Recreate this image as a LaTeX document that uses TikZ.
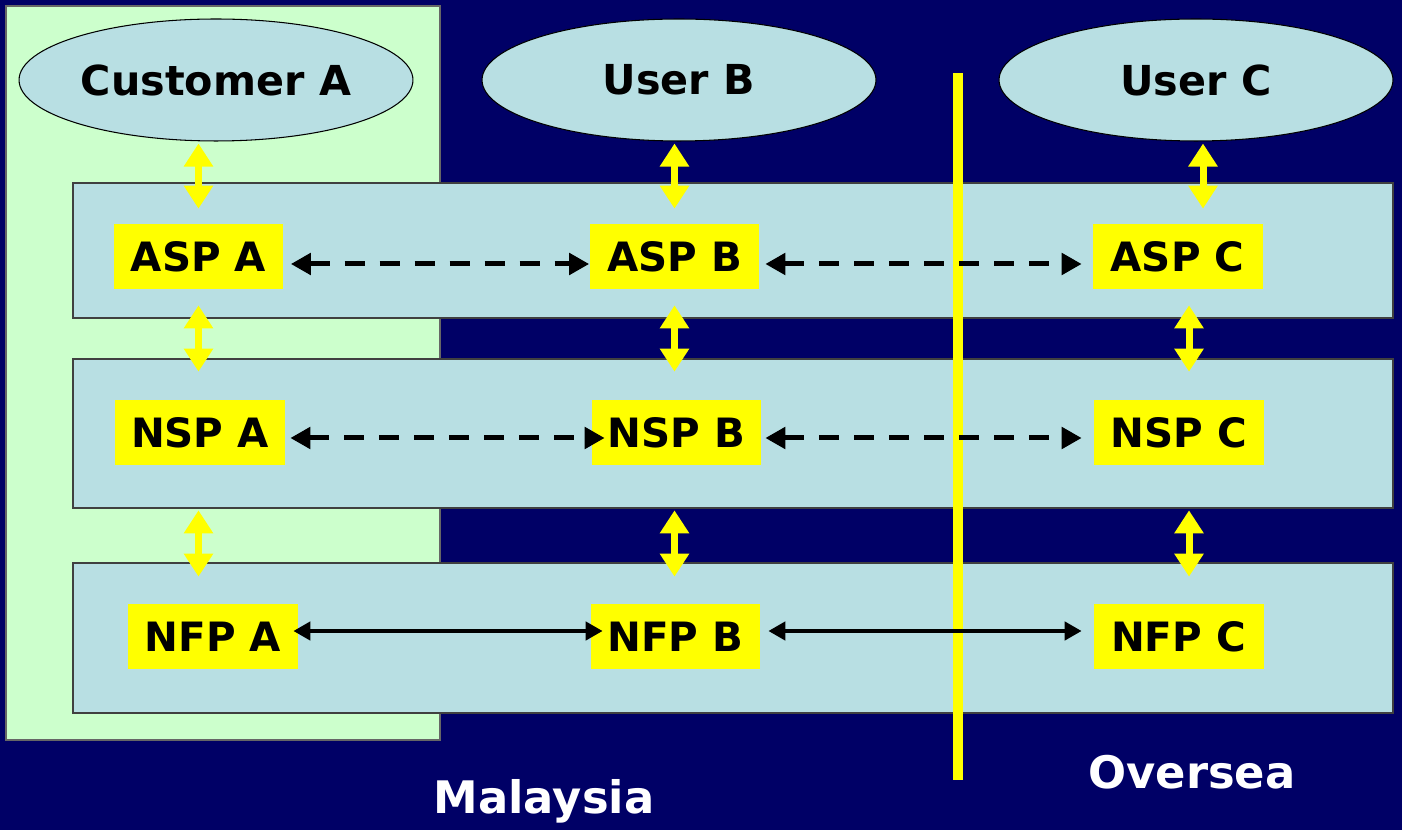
\documentclass[tikz,border=0pt]{standalone}
\usepackage{fontspec}
\setmainfont{DejaVu Sans}
\usetikzlibrary{arrows.meta,shapes.geometric}

\definecolor{navy}{HTML}{000066}
\definecolor{mint}{HTML}{CCFFCC}
\definecolor{layer}{HTML}{B8DFE3}
\definecolor{hiyellow}{HTML}{FFFF00}

\tikzset{
  user/.style={ellipse,draw=black,line width=0.6pt,fill=layer,minimum width=7.88cm,
    minimum height=2.44cm,inner sep=0pt,font=\fontsize{23.5}{28}\selectfont\bfseries},
  sp/.style={fill=hiyellow,minimum width=3.4cm,minimum height=1.3cm,inner sep=0pt,
    font=\fontsize{23}{27}\selectfont\bfseries},
  layerbox/.style={draw=black!75,line width=0.8pt,fill=layer},
  updown/.style={hiyellow,line width=0.14cm,
    {Triangle[length=0.46cm,width=0.56cm]}-{Triangle[length=0.46cm,width=0.56cm]}},
  peer/.style={line width=0.1cm,dash pattern=on 0.4cm off 0.3cm,
    {Triangle[length=0.4cm,width=0.42cm]}-{Triangle[length=0.4cm,width=0.42cm]}},
  link/.style={line width=0.09cm,
    {Triangle[length=0.34cm,width=0.36cm]}-{Triangle[length=0.34cm,width=0.36cm]}},
  region/.style={white,anchor=base,font=\fontsize{25.5}{30}\selectfont\bfseries}
}

\begin{document}
\begin{tikzpicture}[x=0.02cm,y=-0.02cm]
\useasboundingbox (0,0) rectangle (1402,830);
\fill[navy] (0,0) rectangle (1402,830);

% Malaysia side, then the three layers
\draw[draw=black!60,line width=0.6pt,fill=mint] (6,6) rectangle (440,740);
\draw[layerbox] (73,183) rectangle (1393,318);
\draw[layerbox] (73,359) rectangle (1393,508);
\draw[layerbox] (73,563) rectangle (1393,713);

% border
\draw[hiyellow,line width=0.2cm] (958,73) -- (958,780);

\node[user] (cusa) at (216,80) {Customer A};
\node[user] (userb) at (679,80) {User B};
\node[user] (userc) at (1196,80) {User C};

\node[sp] (aspa) at (198.5,256.5) {ASP A};
\node[sp] (aspb) at (674.5,256.5) {ASP B};
\node[sp] (aspc) at (1177.5,256.5) {ASP C};

\node[sp] (nspa) at (200,432.5) {NSP A};
\node[sp] (nspb) at (676.5,432.5) {NSP B};
\node[sp] (nspc) at (1179,432.5) {NSP C};

\node[sp] (nfpa) at (213,636.5) {NFP A};
\node[sp] (nfpb) at (675.5,636.5) {NFP B};
\node[sp] (nfpc) at (1178.5,636.5) {NFP C};

% up and down
\draw[updown,shorten <=0.04cm,shorten >=0.3cm] (aspa |- cusa.south) -- (aspa.north);
\draw[updown,shorten <=0.32cm,shorten >=0.56cm] (aspa.south) -- (aspa.south |- nspa.north);
\draw[updown,shorten <=0.9cm,shorten >=0.54cm] (nspa.south -| aspa) -- (aspa |- nfpa.north);

\draw[updown,shorten <=0.04cm,shorten >=0.3cm] (aspb |- userb.south) -- (aspb.north);
\draw[updown,shorten <=0.32cm,shorten >=0.56cm] (aspb.south) -- (aspb.south |- nspb.north);
\draw[updown,shorten <=0.9cm,shorten >=0.54cm] (nspb.south -| aspb) -- (aspb |- nfpb.north);

\draw[updown,shorten <=0.04cm,shorten >=0.3cm] ([xshift=0.14cm]userc.south) -- ([xshift=0.14cm]userc.south |- aspc.north);
\draw[updown,shorten <=0.32cm,shorten >=0.56cm] ([xshift=0.23cm]aspc.south) -- ([xshift=0.23cm]aspc.south |- nspc.north);
\draw[updown,shorten <=0.9cm,shorten >=0.54cm] ([xshift=0.23cm]nspc.south -| aspc) -- ([xshift=0.23cm]aspc |- nfpc.north);

% side by side
\draw[peer,shorten <=0.14cm] ([yshift=-0.15cm]aspa.east) -- ([yshift=-0.15cm]aspb.west);
\draw[peer,shorten <=0.11cm,shorten >=0.21cm] ([yshift=-0.15cm]aspb.east) -- ([yshift=-0.15cm]aspc.west);
\draw[peer,shorten <=0.1cm,shorten >=-0.27cm] ([yshift=-0.11cm]nspa.east) -- ([yshift=-0.11cm]nspb.west);
\draw[peer,shorten <=0.07cm,shorten >=0.24cm] ([yshift=-0.11cm]nspb.east) -- ([yshift=-0.11cm]nspc.west);
\draw[link,shorten <=-0.1cm,shorten >=-0.25cm] ([yshift=0.11cm]nfpa.east) -- ([yshift=0.11cm]nfpb.west);
\draw[link,shorten <=0.15cm,shorten >=0.23cm] ([yshift=0.11cm]nfpb.east) -- ([yshift=0.11cm]nfpc.west);

\node[region] (malaysia) at (544,813) {Malaysia};
\node[region] (oversea) at (1192,788) {Oversea};

\end{tikzpicture}
\end{document}
